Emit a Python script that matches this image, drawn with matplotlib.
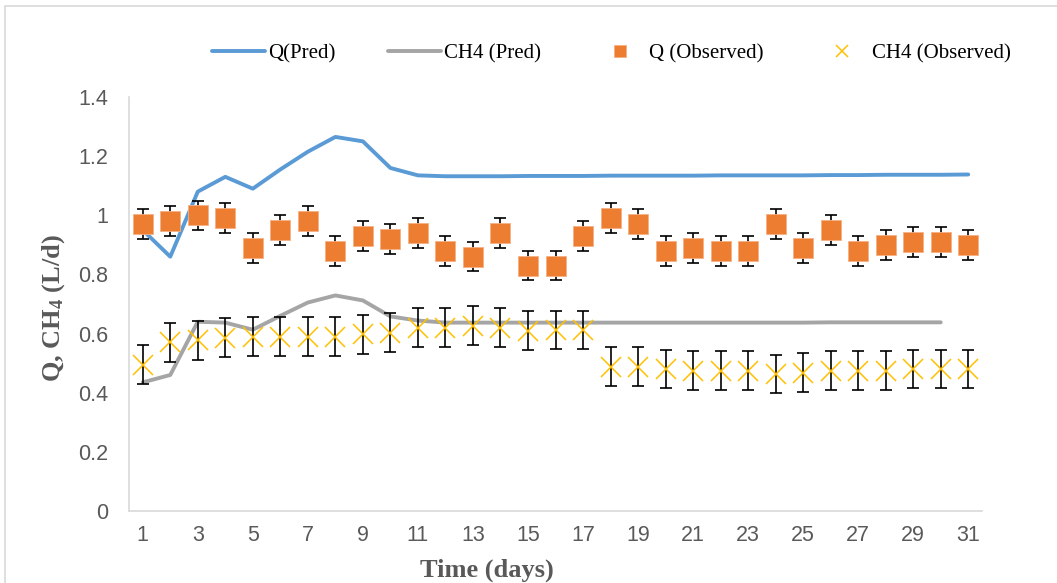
import numpy as np
import matplotlib
matplotlib.use("Agg")
import matplotlib.pyplot as plt
from matplotlib.patches import Rectangle

# values
days = list(range(1, 32))
q_pred = [0.95, 0.86, 1.08, 1.13, 1.09, 1.155, 1.215, 1.265, 1.25, 1.16, 1.135,
          1.132, 1.132, 1.132, 1.133, 1.133, 1.133, 1.134, 1.134, 1.134, 1.134,
          1.135, 1.135, 1.135, 1.135, 1.136, 1.136, 1.137, 1.137, 1.137, 1.138]
ch4_pred_days = list(range(1, 31))
ch4_pred = [0.435, 0.46, 0.64, 0.637, 0.613, 0.66, 0.705, 0.729, 0.712, 0.658,
            0.644, 0.637, 0.637, 0.637, 0.637, 0.637, 0.637, 0.637, 0.637, 0.637,
            0.637, 0.637, 0.637, 0.637, 0.637, 0.638, 0.638, 0.638, 0.638, 0.638]
q_obs = [0.97, 0.98, 1.00, 0.99, 0.89, 0.95, 0.98, 0.88, 0.93, 0.92, 0.94,
         0.88, 0.86, 0.94, 0.83, 0.83, 0.93, 0.99, 0.97, 0.88, 0.89, 0.88,
         0.88, 0.97, 0.89, 0.95, 0.88, 0.90, 0.91, 0.91, 0.90]
q_err = [0.05] * 31
ch4_obs = [0.495, 0.57, 0.577, 0.586, 0.59, 0.59, 0.59, 0.59, 0.597, 0.603,
           0.62, 0.62, 0.627, 0.62, 0.61, 0.613, 0.613, 0.488, 0.488, 0.48,
           0.475, 0.475, 0.475, 0.464, 0.468, 0.475, 0.475, 0.475, 0.48, 0.48, 0.48]
ch4_err = [0.065] * 31
x_ticks = list(range(1, 32, 2))
y_ticks = [0, 0.2, 0.4, 0.6, 0.8, 1.0, 1.2, 1.4]
y_tick_labels = ['0', '0.2', '0.4', '0.6', '0.8', '1', '1.2', '1.4']

grey_txt = '#595959'
serif = 'Liberation Serif'
sans = 'Liberation Sans'
plt.rcParams['mathtext.default'] = 'regular'

fig = plt.figure(figsize=(10.57, 5.83), dpi=100)
ax = fig.add_axes([129 / 1057, 1 - 511 / 583, 853 / 1057, 414 / 583])

ax.plot(days, q_pred, color='#5B9BD5', lw=2.8, label='Q(Pred)', zorder=2, solid_capstyle='round')
ax.plot(ch4_pred_days, ch4_pred, color='#A5A5A5', lw=2.8, label='CH4 (Pred)', zorder=2, solid_capstyle='round')

ax.errorbar(days, q_obs, yerr=q_err, fmt='none', ecolor='black', elinewidth=1.2,
            capsize=4.5, capthick=1.2, zorder=3)
ax.errorbar(days, ch4_obs, yerr=ch4_err, fmt='none', ecolor='black', elinewidth=1.2,
            capsize=4.5, capthick=1.2, zorder=3)
ax.plot(days, q_obs, ls='none', marker='s', ms=14, mfc='#ED7D31', mec='#F4B183',
        mew=0.6, zorder=4, label='Q (Observed)')
ax.plot(days, ch4_obs, ls='none', marker='x', ms=14, mec='#FFC000', mew=1.1,
        zorder=4, label='CH4 (Observed)')

ax.set_xlim(0.5, 31.5)
ax.set_ylim(0, 1.4)
ax.set_xticks(x_ticks)
ax.set_yticks(y_ticks)
ax.set_yticklabels(y_tick_labels)
ax.tick_params(length=0, labelsize=15.5, colors=grey_txt)
ax.tick_params(axis='x', pad=10)
ax.tick_params(axis='y', pad=15)
for lab in ax.get_xticklabels() + ax.get_yticklabels():
    lab.set_family(sans)
for side in ['top', 'right']:
    ax.spines[side].set_visible(False)
for side in ['left', 'bottom']:
    ax.spines[side].set_color('#D9D9D9')
    ax.spines[side].set_linewidth(1.2)

ax.set_xlabel('Time (days)', family=serif, fontsize=19, fontweight='bold', color=grey_txt)
ax.xaxis.set_label_coords(0.42, -0.115)
ax.set_ylabel('Q, CH$_4$ (L/d)', family=serif, fontsize=19, fontweight='bold', color=grey_txt)
ax.yaxis.set_label_coords(-0.073, 0.49)

handles, labels = ax.get_legend_handles_labels()
leg = fig.legend(handles, labels, loc='center left', bbox_to_anchor=(212 / 1057, 1 - 54 / 583),
                 ncol=4, frameon=False, prop={'family': serif, 'size': 15},
                 handlelength=2.55, columnspacing=2.5, handletextpad=0.15, markerscale=0.6,
                 borderpad=0, borderaxespad=0)

fig.add_artist(Rectangle((5 / 1057, -0.05), 1.2, 1 - 6 / 583 + 0.05, transform=fig.transFigure,
                         fill=False, edgecolor='#D9D9D9', lw=1.2))

fig.savefig('out.png', dpi=100)
